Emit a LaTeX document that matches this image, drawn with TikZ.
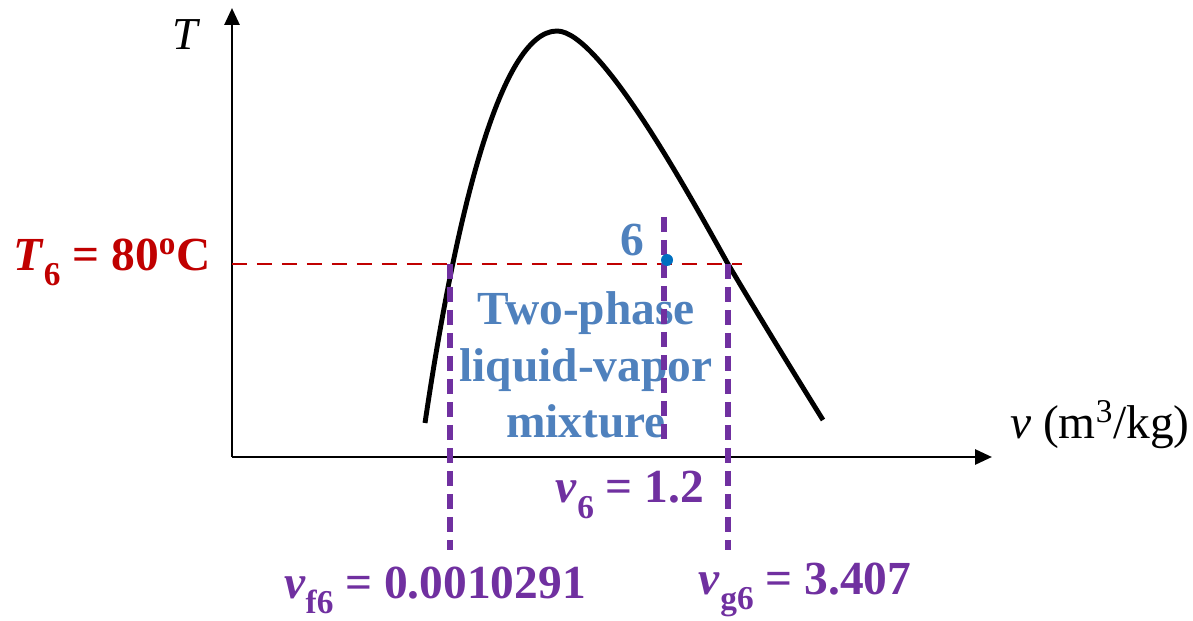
\documentclass[tikz,border=0pt]{standalone}
\usepackage{fontspec}
\setmainfont{Liberation Serif}
\usetikzlibrary{arrows.meta}

\definecolor{tempred}{HTML}{C00000}
\definecolor{volpurple}{HTML}{7030A0}
\definecolor{phaseblue}{HTML}{4F81BD}
\definecolor{dotblue}{HTML}{0070C0}

\newcommand{\lowsub}[1]{\raisebox{-0.32em}{\fontsize{19}{19}\selectfont #1}}

\begin{document}
\begin{tikzpicture}[x=0.02cm, y=-0.02cm,
  axis/.style = {line width=1.6pt, -{Triangle[length=0.34cm, width=0.3cm]}},
  dome/.style = {line width=2.8pt, line join=round},
  isotherm/.style = {tempred, line width=1pt, dash pattern=on 0.3cm off 0.2cm},
  vline/.style = {volpurple, line width=3.2pt, dash pattern=on 0.3cm off 0.16cm},
  lbl/.style = {font=\fontsize{27}{30}\selectfont\bfseries, inner sep=0pt}
]
\useasboundingbox (0,0) rectangle (1193,621);

% Axes
\coordinate (O) at (232,457);
\coordinate (Ttop) at (232,8);
\coordinate (vend) at (992,457);
\draw[axis] (O) -- (Ttop);
\draw[axis] (O) -- (vend);
\node[inner sep=0pt] (Tlabel) at (185,35) {\fontsize{26}{28}\selectfont\itshape T};
\node[inner sep=0pt] (vlabel) at (1100,425) {\fontsize{27}{29}\selectfont\textit{v} (m\textsuperscript{3}/kg)};

% Saturation dome
\coordinate (liqend) at (425,423);
\coordinate (crit) at (557,31);
\coordinate (g) at (728,264);
\coordinate (vapend) at (823,420);
\draw[dome] (liqend) .. controls (455,220) and (500,31) .. (crit)
  .. controls (600,31) and (690,196) .. (g)
  .. controls (760,318) and (795,375) .. (vapend);

% Isotherm at 80 C
\coordinate (T6axis) at (232,264);
\coordinate (isoend) at (742,264);
\draw[isotherm] (T6axis) -- (isoend);
\node[lbl, tempred] (T6) at (112,262) {\textit{T}\lowsub{6} = 80\textsuperscript{o}C};

% Region text
\node[lbl, phaseblue, align=center, font=\fontsize{27}{32}\selectfont\bfseries] (mix) at (586,365) {Two-phase\\liquid-vapor\\mixture};

% Specific volume lines
\coordinate (f) at (450,264);
\coordinate (fbot) at (450,550);
\coordinate (gbot) at (728,550);
\coordinate (stop) at (664,217);
\coordinate (sbot) at (664,440);
\draw[vline] (f) -- (fbot);
\draw[vline] (g) -- (gbot);
\draw[vline] (stop) -- (sbot);

% State 6
\fill[dotblue] (667,260) circle (0.12cm);
\node[lbl, phaseblue] (six) at (632,240) {6};

% Volume labels
\node[lbl, volpurple] (v6) at (630,495) {\textit{v}\lowsub{6} = 1.2};
\node[lbl, volpurple] (vf6) at (435,590) {\textit{v}\lowsub{f6} = 0.0010291};
\node[lbl, volpurple] (vg6) at (805,590) {\textit{v}\lowsub{g6} = 3.407};
\end{tikzpicture}
\end{document}
